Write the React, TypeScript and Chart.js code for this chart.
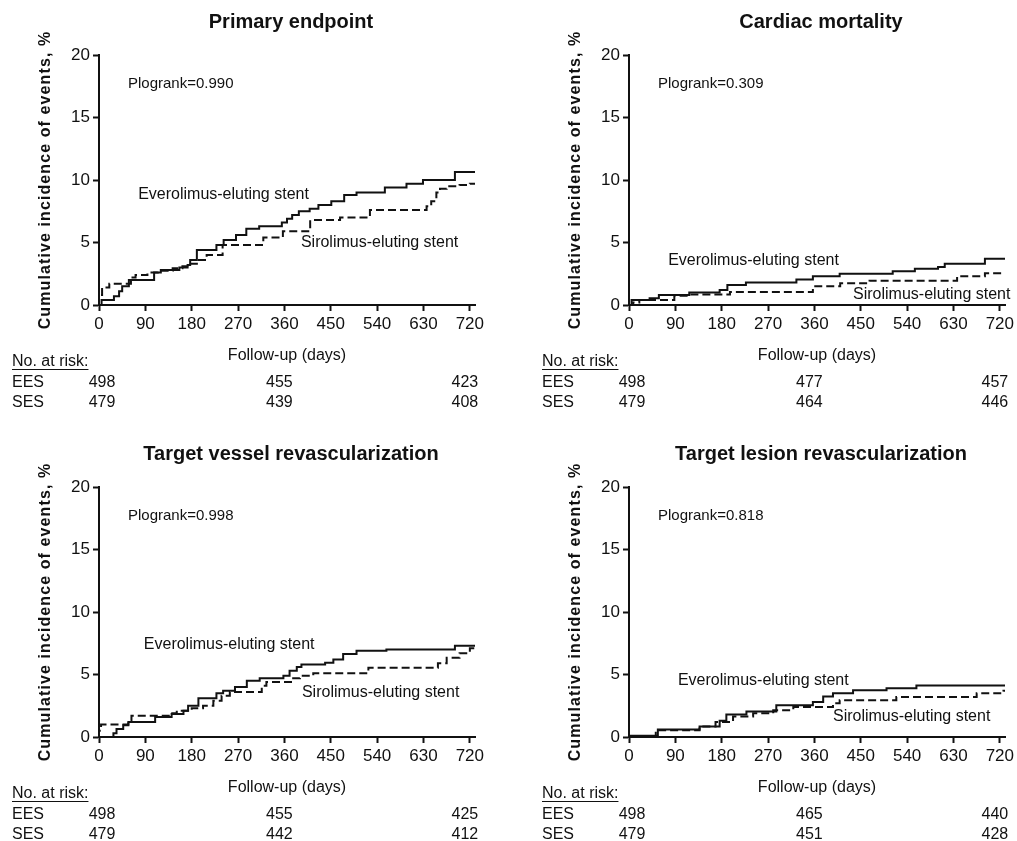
import React, { useEffect, useRef } from "react";
import { Chart, registerables } from "chart.js";
Chart.register(...registerables);

const FONT = '"Liberation Sans", Arial, Helvetica, sans-serif';
const INK = "#111111";

const xTicks = [0, 90, 180, 270, 360, 450, 540, 630, 720];
const yTicks = [0, 5, 10, 15, 20];
const riskDays = [0, 360, 720];
const xAxisTitle = "Follow-up (days)";
const yAxisTitle = "Cumulative incidence of events, %";
const riskHeader = "No. at risk:";
const eesLabel = "Everolimus-eluting stent";
const sesLabel = "Sirolimus-eluting stent";

// Panel 1: Primary endpoint
const p1Title = "Primary endpoint";
const p1P = "0.990";
const p1EesDays = [0, 5, 29, 39, 45, 58, 107, 120, 156, 172, 177, 190, 228, 242, 266, 286, 311, 355, 365, 375, 388, 409, 426, 451, 476, 500, 555, 597, 629, 691, 730];
const p1EesVals = [0, 0.4, 0.7, 1.1, 1.5, 2.0, 2.6, 2.8, 3.0, 3.2, 3.6, 4.4, 4.8, 5.2, 5.6, 6.1, 6.3, 6.6, 6.9, 7.2, 7.5, 7.7, 8.0, 8.3, 8.8, 9.0, 9.4, 9.7, 10.0, 10.65, 10.65];
const p1SesDays = [0, 0, 6, 20, 62, 71, 94, 114, 143, 162, 175, 190, 209, 240, 319, 357, 410, 468, 526, 636, 645, 655, 662, 675, 700, 720, 730];
const p1SesVals = [0, 0.8, 1.4, 1.7, 2.2, 2.4, 2.6, 2.75, 2.95, 3.1, 3.3, 3.6, 4.0, 4.8, 5.4, 5.9, 6.8, 7.0, 7.6, 7.9, 8.3, 9.0, 9.3, 9.5, 9.6, 9.7, 9.7];
const p1RiskEes = [498, 455, 423];
const p1RiskSes = [479, 439, 408];

// Panel 2: Cardiac mortality
const p2Title = "Cardiac mortality";
const p2P = "0.309";
const p2EesDays = [0, 5, 40, 58, 117, 176, 191, 227, 325, 357, 409, 512, 555, 600, 613, 691, 730];
const p2EesVals = [0, 0.4, 0.55, 0.8, 1.0, 1.2, 1.6, 1.8, 2.05, 2.3, 2.5, 2.7, 2.9, 3.05, 3.3, 3.7, 3.7];
const p2SesDays = [0, 8, 20, 88, 117, 196, 357, 410, 467, 637, 691, 730];
const p2SesVals = [0, 0.2, 0.4, 0.75, 0.85, 1.05, 1.5, 1.75, 1.95, 2.3, 2.55, 2.55];
const p2RiskEes = [498, 477, 457];
const p2RiskSes = [479, 464, 446];

// Panel 3: Target vessel revascularization
const p3Title = "Target vessel revascularization";
const p3P = "0.998";
const p3EesDays = [0, 22, 28, 34, 47, 57, 109, 141, 164, 173, 193, 228, 241, 264, 287, 312, 358, 370, 384, 393, 439, 455, 474, 500, 558, 691, 730];
const p3EesVals = [0, 0, 0.3, 0.65, 0.95, 1.2, 1.6, 1.85, 2.1, 2.5, 3.1, 3.5, 3.7, 4.0, 4.5, 4.7, 4.9, 5.3, 5.6, 5.8, 5.95, 6.2, 6.65, 6.9, 7.0, 7.3, 7.3];
const p3SesDays = [0, 0, 4, 57, 63, 138, 151, 180, 202, 222, 238, 254, 316, 325, 377, 390, 416, 523, 658, 675, 700, 720, 730];
const p3SesVals = [0, 0.5, 1.0, 1.3, 1.7, 1.9, 2.1, 2.3, 2.5, 2.9, 3.3, 3.6, 4.1, 4.4, 4.7, 4.9, 5.1, 5.55, 5.9, 6.35, 6.7, 7.1, 7.1];
const p3RiskEes = [498, 455, 425];
const p3RiskSes = [479, 442, 412];

// Panel 4: Target lesion revascularization
const p4Title = "Target lesion revascularization";
const p4P = "0.818";
const p4EesDays = [0, 2, 56, 137, 176, 189, 228, 286, 357, 377, 396, 435, 500, 558, 730];
const p4EesVals = [0, 0.1, 0.6, 0.85, 1.3, 1.8, 2.05, 2.55, 2.8, 3.25, 3.5, 3.75, 3.9, 4.13, 4.13];
const p4SesDays = [0, 5, 52, 137, 168, 202, 241, 280, 319, 396, 409, 519, 675, 727, 730];
const p4SesVals = [0, 0.05, 0.55, 0.85, 1.2, 1.65, 1.9, 2.15, 2.4, 2.7, 2.95, 3.2, 3.5, 3.7, 3.7];
const p4RiskEes = [498, 465, 440];
const p4RiskSes = [479, 451, 428];

type PanelCfg = {
  title: string;
  p: string;
  eesDays: number[];
  eesVals: number[];
  sesDays: number[];
  sesVals: number[];
  riskEes: number[];
  riskSes: number[];
  eesAt: [number, number];
  sesAt: [number, number];
  axisX: number;
  chartTop: number;
};

const panels: PanelCfg[] = [
  { title: p1Title, p: p1P, eesDays: p1EesDays, eesVals: p1EesVals, sesDays: p1SesDays, sesVals: p1SesVals, riskEes: p1RiskEes, riskSes: p1RiskSes, eesAt: [76, 8.8], sesAt: [392, 4.96], axisX: 99, chartTop: 55 },
  { title: p2Title, p: p2P, eesDays: p2EesDays, eesVals: p2EesVals, sesDays: p2SesDays, sesVals: p2SesVals, riskEes: p2RiskEes, riskSes: p2RiskSes, eesAt: [76, 3.52], sesAt: [435, 0.8], axisX: 629, chartTop: 55 },
  { title: p3Title, p: p3P, eesDays: p3EesDays, eesVals: p3EesVals, sesDays: p3SesDays, sesVals: p3SesVals, riskEes: p3RiskEes, riskSes: p3RiskSes, eesAt: [87, 7.36], sesAt: [394, 3.52], axisX: 99, chartTop: 487 },
  { title: p4Title, p: p4P, eesDays: p4EesDays, eesVals: p4EesVals, sesDays: p4SesDays, sesVals: p4SesVals, riskEes: p4RiskEes, riskSes: p4RiskSes, eesAt: [95, 4.48], sesAt: [396, 1.6], axisX: 629, chartTop: 487 },
];

const LEFT_SPACE = 110;
const TOP_SPACE = 60;
const PLOT_W = 376;
const PLOT_H = 250;
const RIGHT_SPACE = 40;
const BOTTOM_SPACE = 120;
const CW = LEFT_SPACE + PLOT_W + RIGHT_SPACE;
const CH = TOP_SPACE + PLOT_H + BOTTOM_SPACE;

function makeAnnotPlugin(cfg: PanelCfg) {
  return {
    id: "annot",
    afterDraw(chart: any) {
      const ctx: CanvasRenderingContext2D = chart.ctx;
      const { left, right, top, bottom } = chart.chartArea;
      const xs = chart.scales.x;
      const ys = chart.scales.y;
      ctx.save();
      ctx.fillStyle = INK;
      ctx.strokeStyle = INK;
      ctx.textBaseline = "middle";

      // Title
      ctx.font = `bold 20px ${FONT}`;
      ctx.textAlign = "center";
      ctx.fillText(cfg.title, (left + right) / 2 + 4, top - 33);

      // P logrank
      ctx.font = `15px ${FONT}`;
      ctx.textAlign = "left";
      ctx.fillText("Plogrank=" + cfg.p, left + 29, top + 29);

      // Stent labels
      ctx.font = `16px ${FONT}`;
      ctx.fillText(eesLabel, xs.getPixelForValue(cfg.eesAt[0]), ys.getPixelForValue(cfg.eesAt[1]));
      ctx.fillText(sesLabel, xs.getPixelForValue(cfg.sesAt[0]), ys.getPixelForValue(cfg.sesAt[1]));

      // X axis title
      ctx.textAlign = "center";
      ctx.fillText(xAxisTitle, (left + right) / 2, bottom + 51);

      // At-risk table
      ctx.textAlign = "left";
      ctx.font = `16px ${FONT}`;
      const hx = left - 87;
      const hy = bottom + 57;
      ctx.fillText(riskHeader, hx, hy);
      const w = ctx.measureText(riskHeader).width;
      ctx.lineWidth = 1;
      ctx.beginPath();
      ctx.moveTo(hx, hy + 7.5);
      ctx.lineTo(hx + w, hy + 7.5);
      ctx.stroke();
      ctx.fillText("EES", hx, bottom + 78);
      ctx.fillText("SES", hx, bottom + 98);
      const offs = [3, -5, -5];
      ctx.textAlign = "center";
      riskDays.forEach((d, i) => {
        const px = xs.getPixelForValue(d) + offs[i];
        ctx.fillText(String(cfg.riskEes[i]), px, bottom + 78);
        ctx.fillText(String(cfg.riskSes[i]), px, bottom + 98);
      });

      // Y axis title
      ctx.save();
      ctx.translate(left - 53, (top + bottom) / 2);
      ctx.rotate(-Math.PI / 2);
      ctx.font = `bold 16px ${FONT}`;
      try {
        (ctx as any).letterSpacing = "1.1px";
      } catch (e) {}
      ctx.textAlign = "center";
      ctx.fillText(yAxisTitle, 0, 0);
      ctx.restore();

      ctx.restore();
    },
  };
}

function Panel({ cfg }: { cfg: PanelCfg }) {
  const ref = useRef<HTMLCanvasElement | null>(null);
  useEffect(() => {
    if (!ref.current) return;
    const toPts = (ds: number[], vs: number[]) => ds.map((d, i) => ({ x: d, y: vs[i] }));
    const chart = new Chart(ref.current, {
      type: "line",
      data: {
        datasets: [
          {
            label: eesLabel,
            data: toPts(cfg.eesDays, cfg.eesVals),
            borderColor: INK,
            borderWidth: 2,
            stepped: "before",
            pointRadius: 0,
            fill: false,
            clip: 4,
          } as any,
          {
            label: sesLabel,
            data: toPts(cfg.sesDays, cfg.sesVals),
            borderColor: INK,
            borderWidth: 2,
            borderDash: [8, 4],
            stepped: "before",
            pointRadius: 0,
            fill: false,
            clip: 4,
          } as any,
        ],
      },
      options: {
        responsive: false,
        animation: false,
        events: [],
        layout: { padding: { left: 0, top: TOP_SPACE, right: RIGHT_SPACE, bottom: 0 } },
        plugins: {
          legend: { display: false },
          tooltip: { enabled: false },
          title: { display: false },
        },
        scales: {
          x: {
            type: "linear",
            min: 0,
            max: 730,
            afterBuildTicks: (s: any) => {
              s.ticks = xTicks.map((v) => ({ value: v }));
            },
            afterFit: (s: any) => {
              s.height = BOTTOM_SPACE;
            },
            ticks: {
              autoSkip: false,
              maxRotation: 0,
              padding: 3,
              color: INK,
              font: { family: FONT, size: 17 },
            },
            grid: {
              display: true,
              drawOnChartArea: false,
              drawTicks: true,
              tickLength: 6,
              tickWidth: 2,
              tickColor: INK,
            },
            border: { display: true, color: INK, width: 2 },
          },
          y: {
            type: "linear",
            min: 0,
            max: 20,
            afterBuildTicks: (s: any) => {
              s.ticks = yTicks.map((v) => ({ value: v }));
            },
            afterFit: (s: any) => {
              s.width = LEFT_SPACE;
            },
            ticks: {
              padding: 3,
              color: INK,
              font: { family: FONT, size: 17 },
            },
            grid: {
              display: true,
              drawOnChartArea: false,
              drawTicks: true,
              tickLength: 6,
              tickWidth: 2,
              tickColor: INK,
            },
            border: { display: true, color: INK, width: 2 },
          },
        },
      } as any,
      plugins: [makeAnnotPlugin(cfg)],
    });
    return () => chart.destroy();
  }, [cfg]);
  return (
    <canvas
      ref={ref}
      width={CW}
      height={CH}
      style={{
        position: "absolute",
        left: cfg.axisX - LEFT_SPACE,
        top: cfg.chartTop - TOP_SPACE,
        width: CW,
        height: CH,
      }}
    />
  );
}

export default function App() {
  return (
    <div
      style={{
        position: "absolute",
        left: 0,
        top: 0,
        width: 1017,
        height: 841,
        overflow: "hidden",
        background: "#ffffff",
      }}
    >
      {panels.map((p, i) => (
        <Panel key={i} cfg={p} />
      ))}
    </div>
  );
}
